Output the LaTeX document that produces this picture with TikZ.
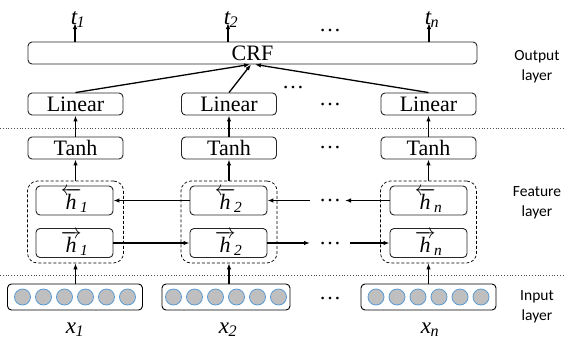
\documentclass[tikz,border=0pt]{standalone}
\usepackage{fontspec}
\setmainfont{Liberation Serif}
\newfontfamily\sansf{Carlito}
\usetikzlibrary{arrows.meta}
\definecolor{circfill}{HTML}{BFBFBF}
\definecolor{circline}{HTML}{5B9BD5}
\newcommand{\hR}[1]{$\overrightarrow{\mbox{\itshape h}}$\kern-1.5pt\textsubscript{\itshape #1}}
\newcommand{\hL}[1]{$\overleftarrow{\mbox{\itshape h}}$\kern-1.5pt\textsubscript{\itshape #1}}
\begin{document}
\begin{tikzpicture}[x=1pt,y=-1pt,
  box/.style={draw=black!85, rounded corners=4pt, line width=0.9pt, minimum width=95pt, minimum height=22pt, inner sep=0pt, font=\fontsize{22}{22}\selectfont},
  hbox/.style={box, minimum width=77pt, minimum height=29pt},
  inbox/.style={draw=black, rounded corners=4pt, line width=0.9pt, minimum width=135pt, minimum height=26pt, inner sep=0pt},
  grp/.style={draw=black, densely dashed, rounded corners=10pt, line width=0.7pt, minimum width=96pt, minimum height=82pt, inner sep=0pt},
  arr/.style={-{Latex[length=6pt,width=4.5pt]}, line width=1.3pt},
  dotsn/.style={font=\fontsize{22}{22}\selectfont, anchor=base, inner sep=0pt},
  lbl/.style={font=\fontsize{23}{23}\selectfont, anchor=base, inner sep=0pt},
  layer/.style={font=\sansf\fontsize{15.5}{20}\selectfont, align=center},
  sep/.style={dotted, line width=0.8pt, black!70},
  circ/.style={circle, draw=circline, fill=circfill, minimum size=16pt, inner sep=0pt, line width=0.8pt}]
\useasboundingbox (0,0) rectangle (565,338);

% separators
\draw[sep] (0,128) -- (565,128);
\draw[sep] (0,275) -- (565,275);

% CRF
\node[box, minimum width=449pt] (crf) at (252.5,53) {CRF};

% output labels
\node[lbl] (t1) at (78,24) {{\itshape t}\kern-0.5pt\textsubscript{\itshape 1}};
\node[lbl] (t2) at (231,24) {{\itshape t}\kern-0.5pt\textsubscript{\itshape 2}};
\node[lbl] (tn) at (432,24) {{\itshape t}\kern-0.5pt\textsubscript{\itshape n}};
\coordinate (tp1) at (75,23);
\coordinate (tp2) at (228,23);
\coordinate (tpn) at (429,23);
\draw[arr] (crf.north -| tp1) -- (tp1);
\draw[arr] (crf.north -| tp2) -- (tp2);
\draw[arr] (crf.north -| tpn) -- (tpn);
\node[dotsn] (d0) at (330,31) {\dots};

% Linear
\node[box] (lin1) at (75.5,104) {Linear};
\node[box] (lin2) at (229,104) {Linear};
\node[box] (lin3) at (428.5,104) {Linear};
\draw[arr] (lin1.north) -- ([xshift=-2.5pt]crf.south);
\draw[arr] (lin2.north) -- ([xshift=-1.5pt]crf.south);
\draw[arr] (lin3.north) -- ([xshift=2.5pt]crf.south);
\node[dotsn] (d1) at (293,88) {\dots};
\node[dotsn] (d2) at (330,105) {\dots};

% Tanh
\node[box] (th1) at (75.5,148) {Tanh};
\node[box] (th2) at (229,148) {Tanh};
\node[box] (th3) at (428.5,148) {Tanh};
\node[dotsn] (d3) at (330,148) {\dots};
\draw[arr] (th1.north) -- (lin1.south);
\draw[arr] (th2.north) -- (lin2.south);
\draw[arr] (th3.north) -- (lin3.south);

% feature groups
\node[grp] (g1) at (75.5,222) {};
\node[grp] (g2) at (229,222) {};
\node[grp] (g3) at (428.5,222) {};
\draw[arr] (g1.north) -- (th1.south);
\draw[arr] (g2.north) -- (th2.south);
\draw[arr] (g3.north) -- (th3.south);

\node[hbox] (hb1) at (74.5,200.5) {\hL{1}};
\node[hbox] (hf1) at (74.5,243) {\hR{1}};
\node[hbox] (hb2) at (228.5,200.5) {\hL{2}};
\node[hbox] (hf2) at (228.5,243) {\hR{2}};
\node[hbox] (hb3) at (428.5,200.5) {\hL{n}};
\node[hbox] (hf3) at (428.5,243) {\hR{n}};

\coordinate (bl) at (310,200.5);
\coordinate (br) at (345,200.5);
\coordinate (fl) at (310,243);
\coordinate (fr) at (350,243);
\draw[arr] (hb2.west) -- (hb1.east);
\draw[arr] (bl) -- (hb2.east);
\draw[arr] (hb3.west) -- (br);
\node[dotsn] (d4) at (330,201) {\dots};
\draw[arr] (hf1.east) -- (hf2.west);
\draw[arr] (hf2.east) -- (fl);
\draw[arr] (fr) -- (hf3.west);
\node[dotsn] (d5) at (330,244) {\dots};

% input
\node[inbox] (in1) at (75,297) {};
\node[inbox, minimum width=128pt] (in2) at (226,297) {};
\node[inbox] (in3) at (428.5,297) {};
\foreach \k in {0,...,5} {
  \node[circ] (c1\k) at ([xshift={(\k-2.5)*21}]in1.center) {};
  \node[circ] (c2\k) at ([xshift={(\k-2.5)*21}]in2.center) {};
  \node[circ] (c3\k) at ([xshift={(\k-2.5)*21}]in3.center) {};
}
\node[dotsn] (d6) at (330,299) {\dots};
\draw[arr] (in1.north -| g1.south) -- (g1.south);
\draw[arr] (in2.north -| g2.south) -- (g2.south);
\draw[arr] (in3.north -| g3.south) -- (g3.south);

\node[lbl] (x1) at (75,333) {{\itshape x}\kern-0.5pt\textsubscript{\itshape 1}};
\node[lbl] (x2) at (228,333) {{\itshape x}\kern-0.5pt\textsubscript{\itshape 2}};
\node[lbl] (xn) at (430,333) {{\itshape x}\kern-0.5pt\textsubscript{\itshape n}};

% layer labels
\node[layer] (ol) at (537,67) {Output\\layer};
\node[layer] (fl2) at (537,203) {Feature\\layer};
\node[layer] (il) at (537,307) {Input\\layer};
\end{tikzpicture}
\end{document}
